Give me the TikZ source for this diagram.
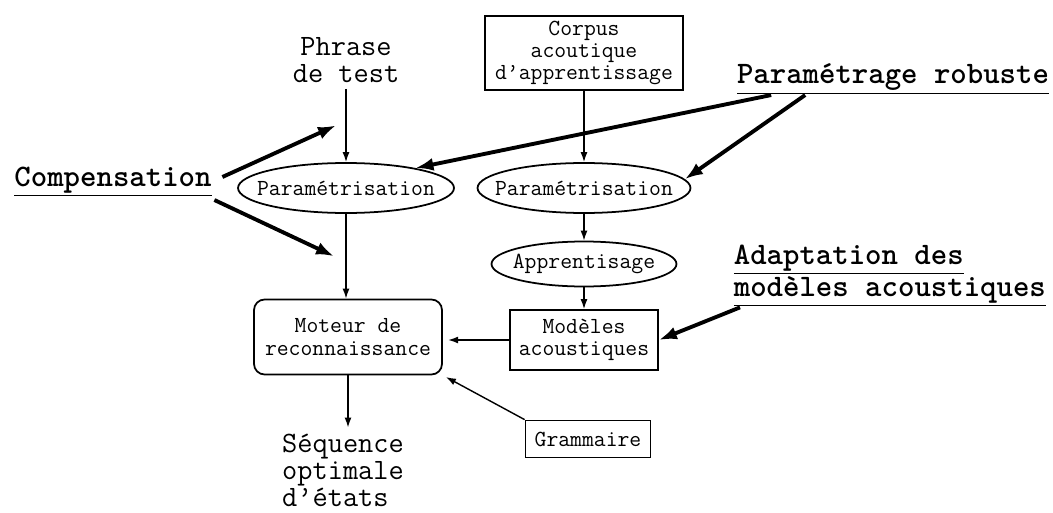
\documentclass[tikz,border=0pt]{standalone}
\usetikzlibrary{arrows.meta, calc, shapes.geometric}

\begin{document}
\begin{tikzpicture}[
  x=0.02cm, y=-0.02cm,
  every node/.style = {align=center, line width=1pt},
  small/.style = {font=\ttfamily\fontsize{13.1}{12.6}\selectfont},
  big/.style = {font=\ttfamily\fontsize{16.8}{15.4}\selectfont, inner sep=3pt},
  tag/.style = {font=\ttfamily\bfseries\fontsize{17.8}{15.9}\selectfont, inner sep=0pt},
  box/.style = {small, draw, rectangle, inner sep=0pt},
  oval/.style = {small, draw, ellipse, inner xsep=-0.4cm, inner ysep=0pt},
  engine/.style = {box, rounded corners=6pt},
  arrow/.style = {-{Latex[length=2mm, width=1.4mm]}, line width=0.8pt},
  bigarrow/.style = {-{Latex[length=3.6mm, width=2.6mm]}, line width=2.2pt}
]
\useasboundingbox (0,0) rectangle (1053,513);

% Test path (left column)
\node[big] (phrase) at (346,60) {Phrase\\de test};
\node[oval, minimum width=4.32cm, minimum height=1cm] (paramL) at (346,188) {Paramétrisation};
\node[engine, minimum width=3.76cm, minimum height=1.5cm] (moteur) at (348,337) {Moteur de\\reconnaissance};
\node[big, align=left] (sequence) at (343,470) {Séquence\\optimale\\d’états};

% Training path (right column)
\node[box, minimum width=3.96cm, minimum height=1.48cm] (corpus) at (584,53) {Corpus\\acoutique\\d’apprentissage};
\node[oval, minimum width=4.26cm, minimum height=1cm] (paramR) at (584,188) {Paramétrisation};
\node[oval, minimum width=3.7cm, minimum height=0.9cm] (appr) at (584,264) {Apprentisage};
\node[box, minimum width=2.96cm, minimum height=1.2cm] (modeles) at (584,340) {Modèles\\acoustiques};
\node[box, minimum width=2.5cm, minimum height=0.74cm] (grammaire) at (588,439) {Grammaire};

% Robustness labels
\node[tag] (comp) at (113,182) {\underline{Compensation}};
\node[tag] (robuste) at (893,79) {\underline{Paramétrage robuste}};
\node[tag, align=left, anchor=north west] (adapt) at (733,244) {\underline{Adaptation des}\\\underline{modèles acoustiques}};

\coordinate (compA) at ($(phrase.south)!0.5!(paramL.north)+(-10,0)$);
\coordinate (compB) at ($(paramL.south)!0.5!(moteur.north)+(-13,0)$);

% Flow arrows
\draw[arrow] (phrase.south) -- (paramL.north);
\draw[arrow] (paramL.south) -- (paramL.south |- moteur.north);
\draw[arrow] (moteur.south) -- (moteur.south |- sequence.north);
\draw[arrow] (corpus.south) -- (paramR.north);
\draw[arrow] (paramR.south) -- (appr.north);
\draw[arrow] (appr.south) -- (modeles.north);
\draw[arrow, shorten >=3pt] (modeles.west) -- (modeles.west -| moteur.east);
\draw[arrow, shorten >=2pt] (grammaire.north west) -- (moteur.south east);

% Thick arrows
\draw[bigarrow] ($(comp.east)+(10,-5)$) -- (compA);
\draw[bigarrow] ($(comp.east)+(2,18)$) -- (compB);
\draw[bigarrow] ($(robuste.south west)+(35,0)$) -- (paramL.16);
\draw[bigarrow] ($(robuste.south west)+(69,0)$) -- (paramR.5);
\draw[bigarrow] ($(adapt.south west)+(7,0)$) -- (modeles.east);

\end{tikzpicture}
\end{document}
